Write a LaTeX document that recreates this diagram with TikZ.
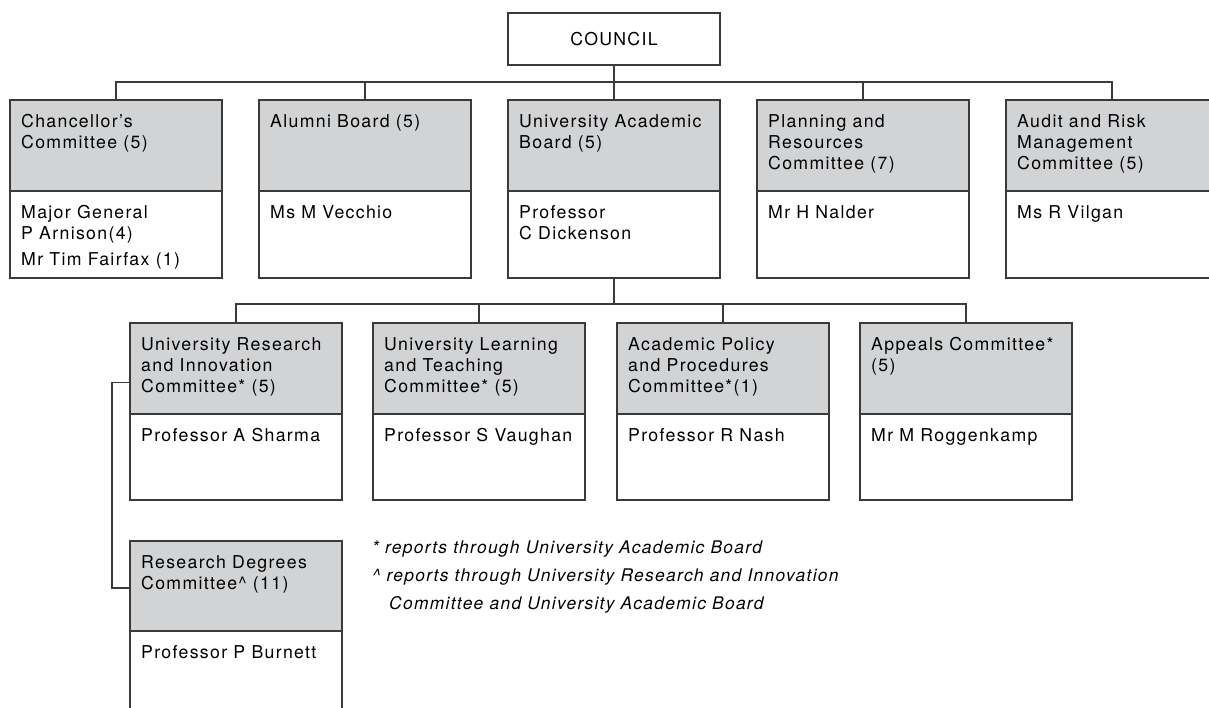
\documentclass[tikz,border=0pt]{standalone}
\usepackage{fontspec}
\setmainfont{TeX Gyre Heros}[LetterSpace=7.5]
\usetikzlibrary{positioning}
\definecolor{boxgray}{HTML}{D2D3D5}
\definecolor{linegray}{HTML}{3A3A3A}

\begin{document}
\begin{tikzpicture}[x=1pt,y=-1pt,
  every node/.style={font=\fontsize{17.7}{21}\selectfont},
  box/.style={draw=linegray,line width=1.2pt,minimum width=212pt,outer sep=0pt,inner sep=0pt},
  head/.style={box,fill=boxgray,minimum height=91pt},
  memb/.style={box,fill=white,minimum height=87pt},
  memb2/.style={memb,minimum height=86pt},
  txt/.style={anchor=north west,align=left,inner xsep=11pt,inner ysep=14pt},
  conn/.style={draw=linegray,line width=1.2pt}]
\useasboundingbox (0,0) rectangle (1209,707);
\clip (0,0) rectangle (1209,707);

\node[box,minimum height=52pt] (council) at (614,39) {COUNCIL};

% first row
\node[head,anchor=north west,label={[txt]north west:Chancellor’s\\Committee (5)}] (chanc) at (10,100) {};
\node[head,label={[txt]north west:Alumni Board (5)}] (alumni) [right=37pt of chanc] {};
\node[head,label={[txt]north west:University Academic\\Board (5)}] (uab) [right=37pt of alumni] {};
\node[head,label={[txt]north west:Planning and\\Resources\\Committee (7)}] (plan) [right=37pt of uab] {};
\node[head,label={[txt]north west:Audit and Risk\\Management\\Committee (5)}] (audit) [right=37pt of plan] {};
\node[memb,label={[txt]north west:Major General\\P Arnison(4)\\[5pt]Mr Tim Fairfax (1)}] (chanc-m) [below=0pt of chanc] {};
\node[memb,label={[txt]north west:Ms M Vecchio}] (alumni-m) [below=0pt of alumni] {};
\node[memb,label={[txt]north west:Professor\\C Dickenson}] (uab-m) [below=0pt of uab] {};
\node[memb,label={[txt]north west:Mr H Nalder}] (plan-m) [below=0pt of plan] {};
\node[memb,label={[txt]north west:Ms R Vilgan}] (audit-m) [below=0pt of audit] {};

% second row
\node[head,anchor=north west,label={[txt]north west:University Research\\and Innovation\\Committee* (5)}] (uri) at (130,323) {};
\node[head,label={[txt]north west:University Learning\\and Teaching\\Committee* (5)}] (ult) [right=31pt of uri] {};
\node[head,label={[txt]north west:Academic Policy\\and Procedures\\Committee*(1)}] (app) [right=32pt of ult] {};
\node[head,label={[txt]north west:Appeals Committee*\\(5)}] (appeals) [right=31pt of app] {};
\node[memb2,label={[txt]north west:Professor A Sharma}] (uri-m) [below=0pt of uri] {};
\node[memb2,label={[txt]north west:Professor S Vaughan}] (ult-m) [below=0pt of ult] {};
\node[memb2,label={[txt]north west:Professor R Nash}] (app-m) [below=0pt of app] {};
\node[memb2,label={[txt]north west:Mr M Roggenkamp}] (appeals-m) [below=0pt of appeals] {};

\node[head,minimum height=90pt,label={[txt]north west:Research Degrees\\Committee\textasciicircum{} (11)}] (rdc) [below=41pt of uri-m] {};
\node[memb,minimum height=90pt,label={[txt]north west:Professor P Burnett}] (rdc-m) [below=0pt of rdc] {};

\node[anchor=north west,align=left,inner sep=0pt,font=\fontsize{17.4}{28}\selectfont\itshape] (notes) at (372,541)
{* reports through University Academic Board\\
\textasciicircum{} reports through University Research and Innovation\\
\hspace*{17pt}Committee and University Academic Board};

\coordinate (bus1) at (614,82);
\coordinate (bus2) at (614,304);
\draw[conn] (council) -- (uab);
\draw[conn] (chanc.north) |- (bus1) -| (audit.north);
\draw[conn] (alumni.north) -- (alumni.north |- bus1);
\draw[conn] (plan.north) -- (plan.north |- bus1);
\draw[conn] (uab-m.south) -- (bus2);
\draw[conn] (uri.north) |- (bus2) -| (appeals.north);
\draw[conn] (ult.north) -- (ult.north |- bus2);
\draw[conn] (app.north) -- (app.north |- bus2);
\draw[conn] ([yshift=-14pt]uri.west) -- ++(-18,0) |- ([yshift=-2pt]rdc.west);
\end{tikzpicture}
\end{document}
